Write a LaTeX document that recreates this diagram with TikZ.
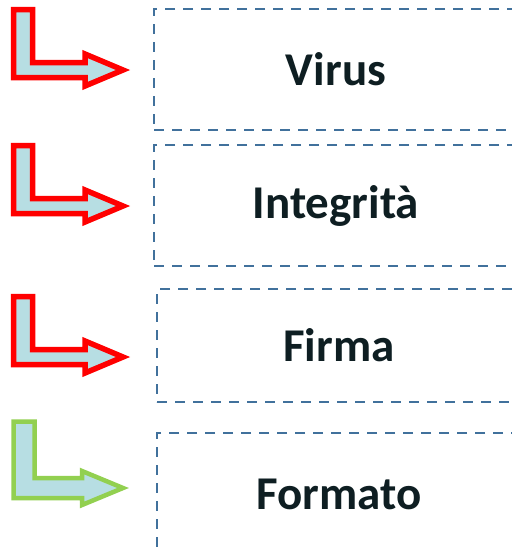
\documentclass[tikz,border=0pt]{standalone}
\usepackage{fontspec}
\setmainfont{Carlito}
\usepackage{tikz}
\usetikzlibrary{positioning}

\definecolor{dashblue}{HTML}{41719C}
\definecolor{arrowfill}{HTML}{B7DEE3}
\definecolor{txtdark}{HTML}{0E1E22}
\definecolor{okgreen}{HTML}{92D050}

\tikzset{
  itembox/.style={draw=dashblue, line width=2.3pt, dash pattern=on 10pt off 8pt,
    font=\bfseries\fontsize{47}{52}\selectfont, text=txtdark,
    minimum width=364pt, inner sep=0pt},
  bentarrow/.style={fill=arrowfill, line width=5.5pt, line join=miter},
}

\begin{document}
\begin{tikzpicture}[x=1pt,y=-1pt]
\clip (0,0) rectangle (512,550);
\fill[white] (0,0) rectangle (512,550);
% boxes
\node[itembox, minimum height=121pt] (virus) at (336,69.5) {Virus};
\node[itembox, minimum height=121pt] (integrita) at (336,205.5) {Integrità};
\node[itembox, minimum height=113pt] (firma) at (339,345.5) {Firma};
\node[itembox, minimum height=122pt] (formato) at (339,494) {Formato};
% red arrows
\foreach \ty in {70,206,357} {
\draw[bentarrow, draw=red, shift={(123,\ty)}]
  (-109.5,-60.5) -- (-90.5,-60.5) -- (-90.5,-7.5) -- (-38,-7.5) -- (-38,-16)
  -- (0,0) -- (-38,16) -- (-38,7.5) -- (-109.5,7.5) -- cycle;
}
% green arrow
\draw[bentarrow, draw=okgreen, line width=4.5pt, shift={(123,488)}]
  (-109.5,-66.5) -- (-88.5,-66.5) -- (-88.5,-10) -- (-41,-10) -- (-41,-17)
  -- (0,0) -- (-41,17) -- (-41,10) -- (-109.5,10) -- cycle;
\end{tikzpicture}
\end{document}
